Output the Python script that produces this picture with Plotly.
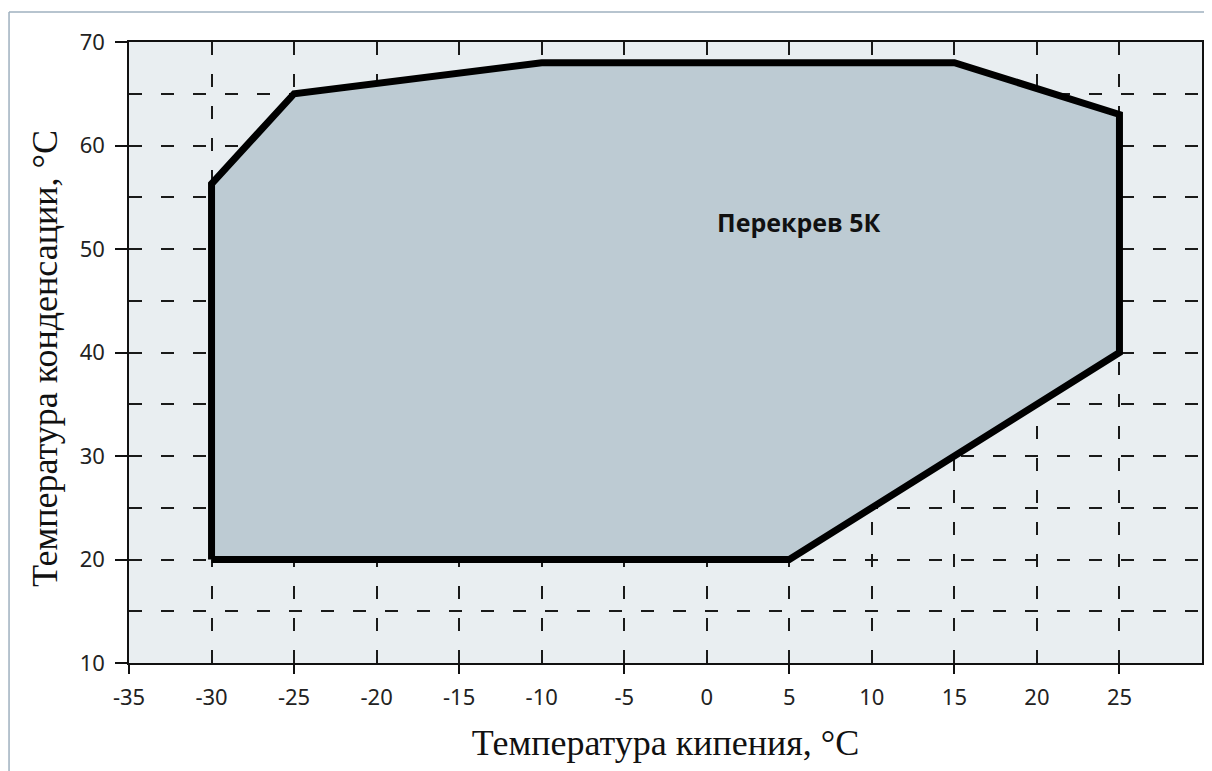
import plotly.graph_objects as go

# ---- data ----
boil_temp = [-30, -30, -25, -10, 15, 25, 25, 5, -30]
cond_temp = [20, 56.3, 65, 68, 68, 63, 40, 20, 20]

x_tick_vals = [-35, -30, -25, -20, -15, -10, -5, 0, 5, 10, 15, 20, 25]
x_tick_text = ["-35", "-30", "-25", "-20", "-15", "-10", "-5", "0", "5", "10", "15", "20", "25"]
x_mark_vals = [-35, -25, -15, -5, 5, 15, 25]
y_tick_vals = [10, 20, 30, 40, 50, 60, 70]
y_tick_text = ["10", "20", "30", "40", "50", "60", "70"]
y_minor_vals = [15, 25, 35, 45, 55, 65]

x_title = "Температура кипения, °C"
y_title = "Температура конденсации, °C"
label_text = "Перекрев 5К"
label_x = 5.6
label_y = 52.6

x_range = [-35, 30]
y_range = [10, 70]

GRID = "#1a1a1a"
DASH = "13px,19px"

fig = go.Figure()
fig.add_trace(go.Scatter(
    x=boil_temp, y=cond_temp, mode="lines", fill="toself",
    fillcolor="#bdcbd3", line=dict(color="#000000", width=7),
    showlegend=False, hoverinfo="skip"))
fig.add_trace(go.Scatter(x=[None], y=[None], xaxis="x2", yaxis="y",
                         showlegend=False, hoverinfo="skip"))

fig.add_annotation(x=label_x, y=label_y, text="<b>" + label_text + "</b>",
                   showarrow=False, font=dict(family="Open Sans", size=25, color="#111111"))

# y axis title as rotated annotation
fig.add_annotation(xref="paper", yref="paper", x=-0.0783, y=0.491, text=y_title,
                   textangle=-90, showarrow=False, xanchor="center", yanchor="middle",
                   font=dict(family="Liberation Serif", size=36, color="#111111"))

# outer frame
fig.add_shape(type="line", xref="paper", yref="paper", x0=-0.1118, x1=1.2,
              y0=1.0483, y1=1.0483, line=dict(color="#9fb0bf", width=1.5))
fig.add_shape(type="line", xref="paper", yref="paper", x0=-0.1118, x1=-0.1118,
              y0=-0.5, y1=1.0483, line=dict(color="#9fb0bf", width=1.5))

fig.update_layout(
    width=1212, height=771,
    margin=dict(l=121, r=18, t=34, b=116),
    paper_bgcolor="white", plot_bgcolor="#e9eef1",
    showlegend=False,
    xaxis=dict(
        range=x_range, tickmode="array", tickvals=x_tick_vals, ticktext=x_tick_text,
        ticks="outside", ticklen=14, tickcolor="rgba(0,0,0,0)", automargin=False,
        showgrid=True, gridcolor=GRID, gridwidth=1.5, griddash=DASH,
        zeroline=False, showline=True, linecolor="#111111", linewidth=1.5, mirror=True,
        tickfont=dict(family="Noto Sans", size=22, color="#222222"),
        title=dict(text=x_title, font=dict(family="Liberation Serif", size=36, color="#111111"),
                   standoff=20),
    ),
    xaxis2=dict(
        range=x_range, overlaying="x", anchor="y", side="bottom", automargin=False,
        tickmode="array", tickvals=x_mark_vals, ticks="outside", ticklen=10,
        tickwidth=1.5, tickcolor="#111111", showticklabels=False,
        showgrid=False, zeroline=False, showline=False,
    ),
    yaxis=dict(
        range=y_range, tickmode="array", tickvals=y_tick_vals, ticktext=y_tick_text,
        ticks="outside", ticklen=12, tickwidth=1.5, tickcolor="#111111", automargin=False,
        showgrid=True, gridcolor=GRID, gridwidth=1.5, griddash=DASH,
        minor=dict(tickmode="array", tickvals=y_minor_vals, showgrid=True,
                   gridcolor=GRID, gridwidth=1.5, griddash=DASH, ticks=""),
        zeroline=False, showline=True, linecolor="#111111", linewidth=1.5, mirror=True,
        tickfont=dict(family="Noto Sans", size=22, color="#222222"),
        ticklabelstandoff=6,
    ),
)

fig.write_html("out.html")
